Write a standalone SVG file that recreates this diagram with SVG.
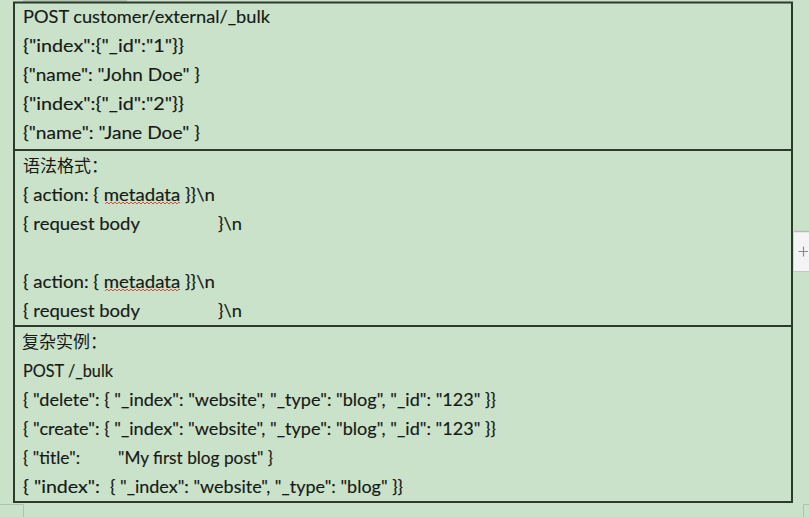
<svg xmlns="http://www.w3.org/2000/svg" width="809" height="517" viewBox="0 0 809 517">
<style>
.t{font-family:Lato,"Liberation Sans","Noto Sans CJK SC",sans-serif;font-size:16.8px;fill:#161a16;stroke:#161a16;stroke-width:0.15}
.c{font-family:"Noto Sans CJK SC","Liberation Sans",sans-serif;font-size:17px;fill:#161a16}
.b{stroke:#2c3a2c;stroke-width:2;fill:none}
.w{stroke:#d84a3a;stroke-width:1;fill:none}
.f{stroke:#aec3ad;stroke-width:1;fill:none}
</style>
<rect width="809" height="517" fill="#cbe2ca"/>
<rect x="23" y="0" width="104" height="2" fill="#b3c6b2"/>
<g id="table">
<rect class="b" x="14" y="2.5" width="778" height="499.5"/>
<line class="b" x1="14" y1="150" x2="792" y2="150"/>
<line class="b" x1="14" y1="326" x2="792" y2="326"/>
</g>
<g id="row1">
<text class="t" x="23" y="23" textLength="247" lengthAdjust="spacingAndGlyphs">POST customer/external/_bulk</text>
<text class="t" x="23" y="52" textLength="161" lengthAdjust="spacingAndGlyphs">{"index":{"_id":"1"}}</text>
<text class="t" x="23" y="81" textLength="177" lengthAdjust="spacingAndGlyphs">{"name": "John Doe" }</text>
<text class="t" x="23" y="110" textLength="161" lengthAdjust="spacingAndGlyphs">{"index":{"_id":"2"}}</text>
<text class="t" x="23" y="139" textLength="177" lengthAdjust="spacingAndGlyphs">{"name": "Jane Doe" }</text>
</g>
<g id="row2">
<text class="c" x="23" y="172">语法格式：</text>
<text class="t" x="23" y="201" textLength="192" lengthAdjust="spacingAndGlyphs">{ action: { metadata }}\n</text>
<path class="w" d="M105 204 l2 -2 l2 2 l2 -2 l2 2 l2 -2 l2 2 l2 -2 l2 2 l2 -2 l2 2 l2 -2 l2 2 l2 -2 l2 2 l2 -2 l2 2 l2 -2 l2 2 l2 -2 l2 2 l2 -2 l2 2 l2 -2 l2 2 l2 -2 l2 2 l2 -2 l2 2 l2 -2 l2 2 l2 -2 l2 2 l2 -2 l2 2 l2 -2 l2 2 l2 -2 l1 1"/>
<text class="t" x="23" y="230" textLength="117" lengthAdjust="spacingAndGlyphs">{ request body</text>
<text class="t" x="218" y="230" textLength="24" lengthAdjust="spacingAndGlyphs">}\n</text>
<text class="t" x="23" y="288" textLength="192" lengthAdjust="spacingAndGlyphs">{ action: { metadata }}\n</text>
<path class="w" d="M105 291 l2 -2 l2 2 l2 -2 l2 2 l2 -2 l2 2 l2 -2 l2 2 l2 -2 l2 2 l2 -2 l2 2 l2 -2 l2 2 l2 -2 l2 2 l2 -2 l2 2 l2 -2 l2 2 l2 -2 l2 2 l2 -2 l2 2 l2 -2 l2 2 l2 -2 l2 2 l2 -2 l2 2 l2 -2 l2 2 l2 -2 l2 2 l2 -2 l2 2 l2 -2 l1 1"/>
<text class="t" x="23" y="317" textLength="117" lengthAdjust="spacingAndGlyphs">{ request body</text>
<text class="t" x="218" y="317" textLength="24" lengthAdjust="spacingAndGlyphs">}\n</text>
</g>
<g id="row3">
<text class="c" x="22" y="348">复杂实例：</text>
<text class="t" x="23" y="377" textLength="90" lengthAdjust="spacingAndGlyphs">POST /_bulk</text>
<text class="t" x="23" y="406" textLength="473" lengthAdjust="spacingAndGlyphs">{ "delete": { "_index": "website", "_type": "blog", "_id": "123" }}</text>
<text class="t" x="23" y="435" textLength="473" lengthAdjust="spacingAndGlyphs">{ "create": { "_index": "website", "_type": "blog", "_id": "123" }}</text>
<text class="t" x="23" y="464" textLength="57" lengthAdjust="spacingAndGlyphs">{ "title":</text>
<text class="t" x="118" y="464" textLength="155" lengthAdjust="spacingAndGlyphs">"My first blog post" }</text>
<text class="t" x="23" y="493" textLength="77" lengthAdjust="spacingAndGlyphs">{ "index":</text>
<text class="t" x="110" y="493" textLength="293" lengthAdjust="spacingAndGlyphs">{ "_index": "website", "_type": "blog" }}</text>
</g>
<g id="plus-button">
<rect x="794" y="231" width="15" height="41" fill="#f3f4f3"/>
<line x1="794" y1="231.5" x2="809" y2="231.5" stroke="#b8bcb8" stroke-width="1.5"/>
<line x1="794" y1="271.5" x2="809" y2="271.5" stroke="#c4c8c4" stroke-width="1"/>
<path d="M798.5 251.5 H808 M803.5 246.5 V256.5" stroke="#8a8a8a" stroke-width="1.2" fill="none"/>
</g>
<path class="f" d="M0 504.5 H23.5 V517 M803.5 517 V504.5 H809"/>
</svg>
